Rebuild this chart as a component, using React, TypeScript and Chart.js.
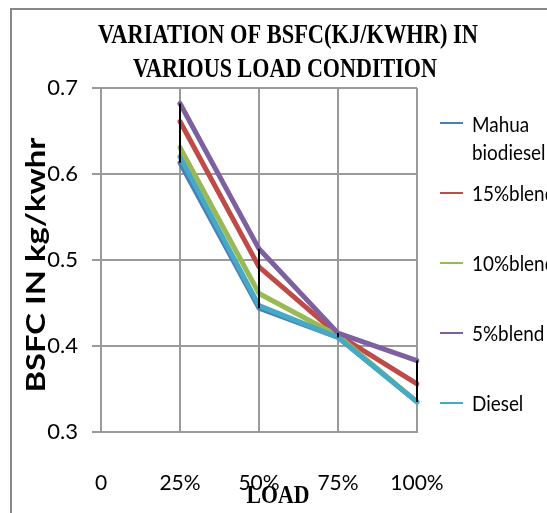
import React, { useEffect, useRef } from "react";
import { Chart, registerables } from "chart.js";

Chart.register(...registerables);

const categories = ["0", "25%", "50%", "75%", "100%"];
const seriesNames = ["Mahua biodiesel", "15%blend", "10%blend", "5%blend", "Diesel"];
const mahua = [null, 0.613, 0.444, 0.41, 0.335];
const blend15 = [null, 0.661, 0.492, 0.413, 0.356];
const blend10 = [null, 0.631, 0.461, 0.412, 0.335];
const blend5 = [null, 0.682, 0.513, 0.415, 0.383];
const diesel = [null, 0.62, 0.447, 0.41, 0.335];
const colors = ["#4A7EBB", "#BE4B48", "#98B954", "#7D60A0", "#46AAC5"];
const yTicks = [0.3, 0.4, 0.5, 0.6, 0.7];
const titleLines = ["VARIATION OF BSFC(KJ/KWHR) IN", "VARIOUS LOAD CONDITION"];
const xTitle = "LOAD";
const yTitle = "BSFC IN kg/kwhr";

function drawScaledText(ctx: CanvasRenderingContext2D, text: string, cx: number, cy: number, font: string, targetW: number, rot = 0) {
  ctx.save();
  ctx.font = font;
  const w = ctx.measureText(text).width;
  ctx.translate(cx, cy);
  ctx.rotate(rot);
  ctx.scale(targetW / w, 1);
  ctx.textAlign = "center";
  ctx.textBaseline = "middle";
  ctx.fillStyle = "#000";
  ctx.fillText(text, 0, 0);
  ctx.restore();
}

function drawLegendText(ctx: CanvasRenderingContext2D, text: string, x: number, y: number) {
  ctx.save();
  ctx.font = "21px Lato";
  ctx.textAlign = "left";
  ctx.textBaseline = "middle";
  ctx.fillStyle = "#000";
  ctx.translate(x, y);
  ctx.scale(0.9, 1);
  ctx.fillText(text, 0, 0);
  ctx.restore();
}

export default function App() {
  const ref = useRef<HTMLCanvasElement>(null);
  useEffect(() => {
    const allSeries = [mahua, blend15, blend10, blend5, diesel];
    const decorPlugin = {
      id: "decor",
      beforeDraw(chart: any) {
        const ctx = chart.ctx as CanvasRenderingContext2D;
        ctx.save();
        ctx.fillStyle = "#fff";
        ctx.fillRect(0, 0, chart.width, chart.height);
        ctx.strokeStyle = "#878787";
        ctx.lineWidth = 2;
        ctx.strokeRect(11, 9, 700, 700);
        ctx.restore();
      },
      afterDatasetsDraw(chart: any) {
        const ctx = chart.ctx as CanvasRenderingContext2D;
        const xs = chart.scales.x;
        const ys = chart.scales.y;
        ctx.save();
        ctx.strokeStyle = "#000";
        ctx.lineWidth = 2;
        categories.forEach((_, i) => {
          const vals = allSeries.map((s) => s[i]).filter((v) => v !== null) as number[];
          if (vals.length < 2) return;
          const x = xs.getPixelForValue(i);
          ctx.beginPath();
          ctx.moveTo(x, ys.getPixelForValue(Math.max(...vals)));
          ctx.lineTo(x, ys.getPixelForValue(Math.min(...vals)));
          ctx.stroke();
        });
        ctx.restore();
      },
      afterDraw(chart: any) {
        const ctx = chart.ctx as CanvasRenderingContext2D;
        drawScaledText(ctx, titleLines[0], 288, 36, "bold 27px 'Liberation Serif'", 380);
        drawScaledText(ctx, titleLines[1], 285, 70, "bold 27px 'Liberation Serif'", 304);
        drawScaledText(ctx, xTitle, 278, 497, "bold 25px 'Liberation Serif'", 63);
        drawScaledText(ctx, yTitle, 37, 265, "bold 26px Lato", 255, -Math.PI / 2);
        // legend
        const legendY = [123, 193, 263, 333, 403];
        seriesNames.forEach((name, i) => {
          const y = legendY[i];
          ctx.save();
          ctx.strokeStyle = colors[i];
          ctx.lineWidth = 2;
          ctx.beginPath();
          ctx.moveTo(440, y);
          ctx.lineTo(463, y);
          ctx.stroke();
          ctx.restore();
          if (i === 0) {
            drawLegendText(ctx, "Mahua", 472, y + 2);
            drawLegendText(ctx, "biodiesel", 472, y + 30);
          } else {
            drawLegendText(ctx, name, 472, y + 1);
          }
        });
      },
    };

    const order = [4, 3, 2, 1, 0];
    const chart = new Chart(ref.current!, {
      type: "line",
      data: {
        labels: categories,
        datasets: allSeries.map((s, i) => ({
          label: seriesNames[i],
          data: s,
          borderColor: colors[i],
          backgroundColor: colors[i],
          borderWidth: 5,
          pointRadius: 0,
          borderCapStyle: "round" as const,
          borderJoinStyle: "round" as const,
          tension: 0,
          order: order[i],
        })),
      },
      options: {
        animation: false,
        responsive: false,
        devicePixelRatio: 1,
        layout: { padding: { left: 0, top: 88, right: 130, bottom: 0 } },
        plugins: { legend: { display: false }, title: { display: false }, tooltip: { enabled: false } },
        scales: {
          x: {
            type: "category",
            offset: false,
            grid: { color: "#9a9a9a", lineWidth: 2, drawTicks: false },
            border: { color: "#9a9a9a", width: 2 },
            ticks: { color: "#000", font: { family: "Lato", size: 21 }, padding: 39, maxRotation: 0, autoSkip: false },
            afterFit(scale: any) {
              scale.height = 81;
            },
          },
          y: {
            min: 0.3,
            max: 0.7,
            afterBuildTicks(scale: any) {
              scale.ticks = yTicks.map((v) => ({ value: v }));
            },
            grid: { color: "#9a9a9a", lineWidth: 2, tickLength: 9 },
            border: { color: "#9a9a9a", width: 2 },
            ticks: {
              color: "#000",
              font: { family: "Lato", size: 22 },
              padding: 14,
              callback: (v: any) => Number(v).toFixed(1),
            },
            afterFit(scale: any) {
              scale.width = 101;
            },
          },
        },
      },
      plugins: [decorPlugin],
    });
    return () => chart.destroy();
  }, []);
  return (
    <div style={{ position: "fixed", left: 0, top: 0, width: 547, height: 513 }}>
      <canvas ref={ref} width={547} height={513} style={{ display: "block", width: 547, height: 513 }} />
    </div>
  );
}
